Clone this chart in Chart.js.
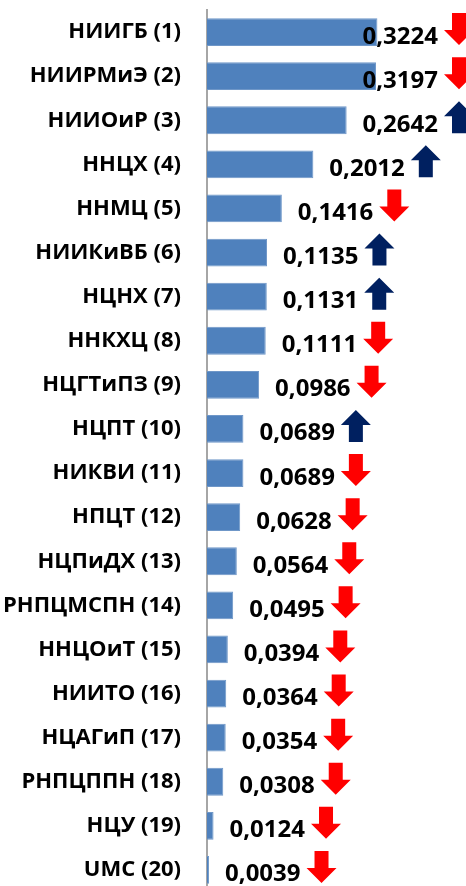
<!DOCTYPE html>
<html>
<head>
<meta charset="utf-8">
<script src="https://cdn.jsdelivr.net/npm/chart.js@4/dist/chart.umd.min.js"></script>
<style>
  html, body { margin: 0; padding: 0; background: #fff; overflow: hidden; }
  #chart { display: block; }
</style>
</head>
<body>
<canvas id="chart" width="466" height="892"></canvas>
<script>
// Categories (institutions) in display order
const categories = ['НИИГБ (1)', 'НИИРМиЭ (2)', 'НИИОиР (3)', 'ННЦХ (4)', 'ННМЦ (5)',
    'НИИКиВБ (6)', 'НЦНХ (7)', 'ННКХЦ (8)', 'НЦГТиПЗ (9)', 'НЦПТ (10)',
    'НИКВИ (11)', 'НПЦТ (12)', 'НЦПиДХ (13)', 'РНПЦМСПН (14)', 'ННЦОиТ (15)',
    'НИИТО (16)', 'НЦАГиП (17)', 'РНПЦППН (18)', 'НЦУ (19)', 'UMC (20)'];

// Index values
const values = [0.3224, 0.3197, 0.2642, 0.2012, 0.1416, 0.1135, 0.1131, 0.1111, 0.0986, 0.0689,
    0.0689, 0.0628, 0.0564, 0.0495, 0.0394, 0.0364, 0.0354, 0.0308, 0.0124, 0.0039];

// Trend arrows next to each value
const trend = ['down', 'down', 'up', 'up', 'down', 'up', 'up', 'down', 'down', 'up',
    'down', 'down', 'down', 'down', 'down', 'down', 'down', 'down', 'down', 'down'];

const FONT = '"Open Sans", "Liberation Sans", sans-serif';

// Draw arrow centered at (cx, cy)
function drawArrow(ctx, cx, cy, dir) {
    const headW = 30, headH = 15, shaftW = 14, total = 32;
    ctx.save();
    ctx.fillStyle = dir === 'up' ? '#002060' : '#ff0000';
    ctx.beginPath();
    if (dir === 'up') {
        const top = cy - total / 2;
        ctx.moveTo(cx, top);
        ctx.lineTo(cx + headW / 2, top + headH);
        ctx.lineTo(cx + shaftW / 2, top + headH);
        ctx.lineTo(cx + shaftW / 2, top + total);
        ctx.lineTo(cx - shaftW / 2, top + total);
        ctx.lineTo(cx - shaftW / 2, top + headH);
        ctx.lineTo(cx - headW / 2, top + headH);
    } else {
        const bottom = cy + total / 2;
        ctx.moveTo(cx, bottom);
        ctx.lineTo(cx + headW / 2, bottom - headH);
        ctx.lineTo(cx + shaftW / 2, bottom - headH);
        ctx.lineTo(cx + shaftW / 2, bottom - total);
        ctx.lineTo(cx - shaftW / 2, bottom - total);
        ctx.lineTo(cx - shaftW / 2, bottom - headH);
        ctx.lineTo(cx - headW / 2, bottom - headH);
    }
    ctx.closePath();
    ctx.fill();
    ctx.restore();
}

// Plugin: value labels + trend arrows
const valueLabels = {
    id: 'valueLabels',
    afterDatasetsDraw(chart) {
        const ctx = chart.ctx;
        const area = chart.chartArea;
        const meta = chart.getDatasetMeta(0);
        ctx.save();
        ctx.font = 'bold 24px ' + FONT;
        ctx.fillStyle = '#000';
        ctx.textBaseline = 'alphabetic';
        ctx.textAlign = 'left';
        meta.data.forEach((bar, i) => {
            const text = values[i].toFixed(4).replace('.', ',');
            const w = ctx.measureText(text).width;
            let x = bar.x + 16;
            if (x + w > area.right - 28) {
                x = area.right - 28 - w;
            }
            ctx.fillText(text, x, bar.y + 11.5);
            drawArrow(ctx, x + w + 21, bar.y - 3, trend[i]);
        });
        ctx.restore();
    }
};

const ctx = document.getElementById('chart').getContext('2d');
new Chart(ctx, {
    type: 'bar',
    data: {
        labels: categories,
        datasets: [{
            data: values,
            backgroundColor: '#4f81bd',
            borderColor: '#6f97c8',
            borderWidth: 1,
            barPercentage: 1,
            categoryPercentage: 0.63
        }]
    },
    options: {
        indexAxis: 'y',
        responsive: false,
        animation: false,
        layout: { padding: { top: 10, bottom: 0, left: 0, right: 0 } },
        plugins: {
            legend: { display: false },
            tooltip: { enabled: false }
        },
        scales: {
            x: {
                display: false,
                min: 0,
                max: 0.49
            },
            y: {
                afterFit(scale) {
                    scale.width = 207;
                    scale.paddingTop = 0;
                    scale.paddingBottom = 0;
                },
                grid: { display: true, drawOnChartArea: false, drawTicks: false },
                border: { display: true, color: '#a6a6a6', width: 2 },
                ticks: {
                    padding: 26,
                    color: '#000',
                    autoSkip: false,
                    font: { family: FONT, size: 22, weight: 'bold' }
                }
            }
        }
    },
    plugins: [valueLabels]
});
</script>
</body>
</html>
